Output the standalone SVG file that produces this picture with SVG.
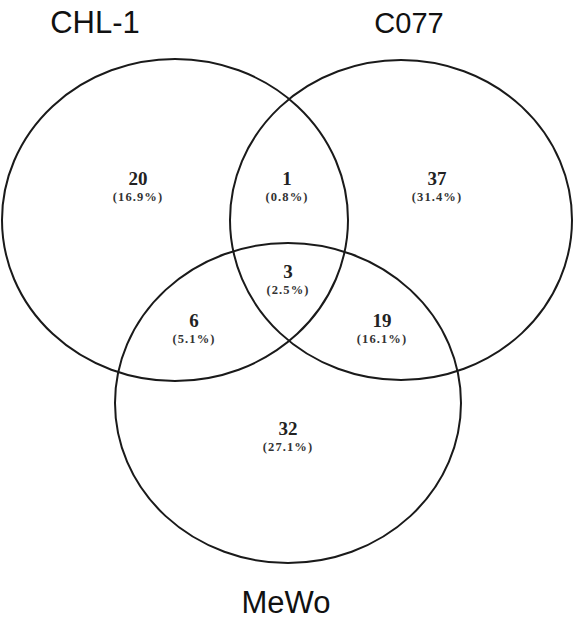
<svg xmlns="http://www.w3.org/2000/svg" width="577" height="620" viewBox="0 0 577 620">
  <style>
    .set { fill: none; stroke: #1a1a1a; stroke-width: 2; }
    .title { font-family: "Liberation Sans", Arial, sans-serif; font-size: 31px; fill: #111; text-anchor: middle; }
    .count { font-family: "Liberation Serif", "Times New Roman", serif; font-size: 19px; font-weight: bold; fill: #222; text-anchor: middle; }
    .pct { font-family: "Liberation Serif", "Times New Roman", serif; font-size: 12.5px; font-weight: bold; letter-spacing: 1.1px; fill: #333; text-anchor: middle; }
  </style>
  <rect width="577" height="620" fill="#fff"/>

  <!-- set outlines -->
  <g id="sets">
    <ellipse id="chl1" class="set" cx="175" cy="220" rx="173" ry="161"/>
    <ellipse id="c077" class="set" cx="401" cy="220" rx="171" ry="160"/>
    <ellipse id="mewo" class="set" cx="288" cy="403" rx="173" ry="160"/>
  </g>

  <!-- set names -->
  <g id="titles">
    <text class="title" x="95" y="33">CHL-1</text>
    <text class="title" x="409" y="33" style="font-size:29px">C077</text>
    <text class="title" x="286" y="613">MeWo</text>
  </g>

  <!-- region counts -->
  <g id="r-chl1-only">
    <text class="count" x="138" y="185">20</text>
    <text class="pct" x="138" y="201">(16.9%)</text>
  </g>
  <g id="r-chl1-c077">
    <text class="count" x="287" y="185">1</text>
    <text class="pct" x="287" y="201">(0.8%)</text>
  </g>
  <g id="r-c077-only">
    <text class="count" x="437" y="185">37</text>
    <text class="pct" x="437" y="201">(31.4%)</text>
  </g>
  <g id="r-all">
    <text class="count" x="288" y="278">3</text>
    <text class="pct" x="288" y="294">(2.5%)</text>
  </g>
  <g id="r-chl1-mewo">
    <text class="count" x="194" y="327">6</text>
    <text class="pct" x="194" y="343">(5.1%)</text>
  </g>
  <g id="r-c077-mewo">
    <text class="count" x="382" y="327">19</text>
    <text class="pct" x="382" y="343">(16.1%)</text>
  </g>
  <g id="r-mewo-only">
    <text class="count" x="288" y="435">32</text>
    <text class="pct" x="288" y="451">(27.1%)</text>
  </g>
</svg>
